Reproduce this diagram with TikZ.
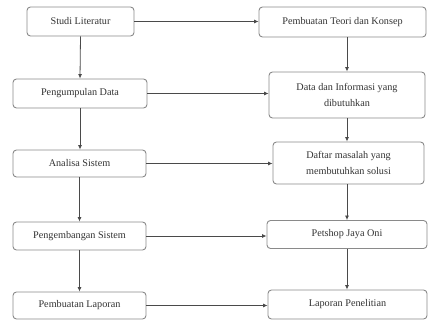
\documentclass[tikz,border=0pt]{standalone}
\usepackage{fontspec}
\setmainfont{Liberation Serif}
\usetikzlibrary{arrows.meta}
\definecolor{boxline}{HTML}{8A8A8A}
\definecolor{flowline}{HTML}{4A4A4A}
\definecolor{ink}{HTML}{333333}
\tikzset{
  stepbox/.style={draw=boxline, line width=0.9pt, rounded corners=3.5pt, fill=white,
    text=ink, font=\fontsize{10.2}{16}\selectfont, align=center, inner sep=1pt},
  flow/.style={draw=flowline, line width=0.8pt, -{Latex[length=4.5pt,width=4pt]}}
}
\begin{document}
\begin{tikzpicture}[x=1pt,y=-1pt]
\useasboundingbox (0,0) rectangle (428,324);
% left column: research steps
\node[stepbox, minimum width=107pt, minimum height=29pt] (studi)   at (80.5,21.5) {Studi Literatur};
\node[stepbox, minimum width=134pt, minimum height=29pt] (kumpul)  at (80,93.5)   {Pengumpulan Data};
\node[stepbox, minimum width=133pt, minimum height=27pt] (analisa) at (79.5,163.5) {Analisa Sistem};
\node[stepbox, minimum width=133pt, minimum height=28pt] (kembang) at (79.5,236)  {Pengembangan Sistem};
\node[stepbox, minimum width=133pt, minimum height=27pt] (lapor)   at (79.5,305.5) {Pembuatan Laporan};
% right column: outputs
\node[stepbox, minimum width=167pt, minimum height=30pt] (teori)   at (342.5,22)  {Pembuatan Teori dan Konsep};
\node[stepbox, minimum width=156pt, minimum height=46pt] (data)    at (347,95)    {Data dan Informasi yang\\dibutuhkan};
\node[stepbox, minimum width=151pt, minimum height=42pt] (daftar)  at (348.5,163) {Daftar masalah yang\\membutuhkan solusi};
\node[stepbox, minimum width=160pt, minimum height=28pt] (petshop) at (347,234.5) {Petshop Jaya Oni};
\node[stepbox, minimum width=159pt, minimum height=29pt] (teliti)  at (347.5,304.5) {Laporan Penelitian};
% vertical flow, left
\draw[flow] (studi.south)   -- (kumpul.north);
\draw[flow] (kumpul.south)  -- (kumpul.south |- analisa.north);
\draw[flow] (analisa.south) -- (kembang.north);
\draw[flow] (kembang.south) -- (lapor.north);
% vertical flow, right
\draw[flow] (teori.south -| data.north)    -- (data.north);
\draw[flow] (data.south)    -- (data.south |- daftar.north);
\draw[flow] (daftar.south -| petshop.north) -- (petshop.north);
\draw[flow] (petshop.south) -- (petshop.south |- teliti.north);
% horizontal links
\draw[flow] (studi.east)   -- (studi.east -| teori.west);
\draw[flow] (kumpul.east)  -- (kumpul.east -| data.west);
\draw[flow] (analisa.east) -- (analisa.east -| daftar.west);
\draw[flow] (kembang.east) -- (kembang.east -| petshop.west);
\draw[flow] (lapor.east)   -- (lapor.east -| teliti.west);
\end{tikzpicture}
\end{document}
